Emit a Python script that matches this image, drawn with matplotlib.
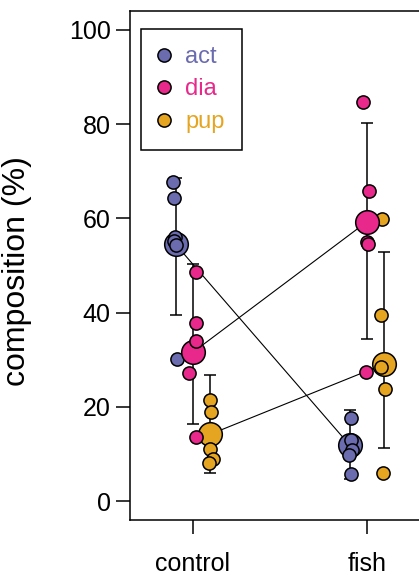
import matplotlib.pyplot as plt
from matplotlib.lines import Line2D
import numpy as np

plt.rcParams['font.family'] = ['Liberation Sans', 'DejaVu Sans']

groups = ['control', 'fish']
species = ['act', 'dia', 'pup']
colours = {'act': '#6b6baf', 'dia': '#e8288a', 'pup': '#e5a520'}

# group means (big circles)
means = {'act': [54.5, 11.9], 'dia': [31.6, 59.3], 'pup': [14.2, 29.1]}
# error bar ends
err_lo = {'act': [39.4, 4.7], 'dia': [16.4, 34.5], 'pup': [6.0, 11.3]}
err_hi = {'act': [68.5, 19.4], 'dia': [50.4, 80.2], 'pup': [26.8, 52.8]}

# single samples, control then fish
pts = {
    'act': [[67.8, 64.3, 56.0, 55.2, 54.3, 30.2],
            [17.6, 13.0, 10.9, 9.8, 5.7]],
    'dia': [[48.6, 37.7, 33.9, 27.2, 13.7],
            [84.6, 65.8, 55.0, 54.5, 27.5]],
    'pup': [[21.5, 18.9, 11.1, 8.9, 8.0],
            [59.8, 39.6, 28.4, 23.8, 6.0]],
}
# small horizontal jitter of the samples
jit = {
    'act': [[-0.017, -0.012, -0.006, -0.01, 0.0, 0.006],
            [0.006, 0.006, 0.012, -0.002, 0.006]],
    'dia': [[0.016, 0.017, 0.017, -0.021, 0.017],
            [-0.021, 0.01, 0.0, 0.006, -0.007]],
    'pup': [[0.0, 0.006, 0.0, 0.017, -0.008],
            [-0.016, -0.021, -0.02, 0.003, -0.006]],
}
offset = {'act': -0.1, 'dia': 0.0, 'pup': 0.1}

fig = plt.figure(figsize=(4.19, 5.75), dpi=100)
ax = fig.add_axes([130 / 419, 55 / 575, 300 / 419, 509 / 575])

xs = np.arange(1, len(groups) + 1)

for sp in species:
    x = xs + offset[sp]
    m = np.array(means[sp])
    ax.plot(x, m, color='black', lw=0.8, zorder=1)
    ax.errorbar(x, m, yerr=[m - np.array(err_lo[sp]), np.array(err_hi[sp]) - m],
                fmt='none', ecolor='black', elinewidth=1.1, capsize=4.5,
                capthick=1.1, zorder=1)

z = 2
for sp in ['act', 'pup', 'dia']:
    x = xs + offset[sp]
    ax.plot(x, means[sp], 'o', ms=17, mfc=colours[sp], mec='black', mew=1.1,
            ls='none', zorder=z)
    z += 1
    for g in range(len(groups)):
        xp = x[g] + np.array(jit[sp][g])
        ax.plot(xp, pts[sp][g], 'o', ms=9.5, mfc=colours[sp], mec='black',
                mew=1.1, ls='none', zorder=z)
    z += 1

ax.set_xlim(0.638, 2.362)
ax.set_ylim(-4, 104)
ax.set_xticks(xs)
ax.set_xticklabels(groups)
ax.set_yticks([0, 20, 40, 60, 80, 100])
for s in ax.spines.values():
    s.set_linewidth(1.1)
ax.tick_params(axis='both', length=10, width=1.1, labelsize=18)
ax.tick_params(axis='y', pad=4)
ax.tick_params(axis='x', pad=13)
ax.set_ylabel('composition (%)', fontsize=23)
ax.yaxis.set_label_coords(-0.327, 0.49)

handles = [Line2D([], [], marker='o', ls='none', ms=9.5, mfc=colours[sp],
                  mec='black', mew=1.1) for sp in species]
leg = ax.legend(handles, species, loc='upper left',
                bbox_to_anchor=(0.037, 0.965), fontsize=17, frameon=True,
                fancybox=False, edgecolor='black', framealpha=1,
                labelcolor='markerfacecolor', labelspacing=0.45,
                borderpad=0.72, handletextpad=0.65, handlelength=0.5,
                borderaxespad=0)
leg.get_frame().set_linewidth(1.1)

fig.savefig('out.png', dpi=100)
